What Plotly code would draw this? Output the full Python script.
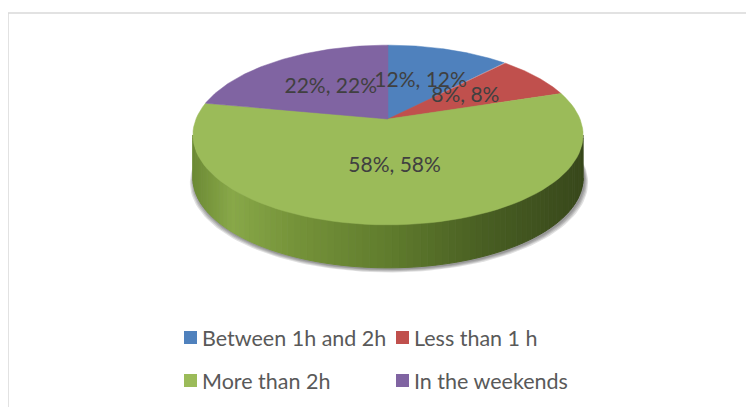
import numpy as np
import plotly.graph_objects as go

categories = ["Between 1h and 2h", "Less than 1 h", "More than 2h", "In the weekends"]
shares = [12, 8, 58, 22]
colors = ["#4f81bd", "#c0504d", "#9bbb59", "#8064a2"]

W, H = 754, 407
OFF = 8                    # page body margin, so axis units = page pixels
FONT = "Lato"

# fake 3d pie: a tilted disc seen in perspective, drawn in page pixels
CX, CY = 388, 119          # pie centre on the page
A, B, C = 192, 87, 0.178   # radius, vertical squash, perspective strength
DEPTH = 43                 # thickness of the disc


def project(theta, r=1.0, dy=0.0):
    """Angle clockwise from 12 o'clock -> page x, y."""
    u = r * np.sin(theta)
    v = r * np.cos(theta)
    d = 1 + C * v
    return CX + A * u / d, CY - B * v / d + dy


def side_color(frac):
    stops = [0.0, 0.1, 0.25, 0.5, 0.75, 1.0]
    rgb = [
        np.interp(frac, stops, [108, 136, 118, 96, 72, 56]),
        np.interp(frac, stops, [138, 168, 148, 124, 94, 72]),
        np.interp(frac, stops, [52, 72, 58, 45, 34, 27]),
    ]
    return "rgb(%d,%d,%d)" % tuple(int(round(c)) for c in rgb)


fig = go.Figure()

# soft shadow under the disc
full = np.linspace(0, 2 * np.pi, 200)
for k in range(4, 0, -1):
    sx, sy = project(full, dy=DEPTH)
    sx = CX + (sx - CX) * (1 + k / 195) + 1
    sy = sy + k * 0.9 + 1
    fig.add_trace(go.Scatter(x=sx, y=sy, fill="toself", mode="lines",
                             line=dict(width=0), fillcolor="rgba(0,0,0,0.12)",
                             hoverinfo="skip", showlegend=False))

# side wall (only the front half shows)
bounds = np.cumsum([0] + shares) / sum(shares) * 2 * np.pi
t_left = 2 * np.pi - np.arccos(-C)
t_right = np.arccos(-C)
ts = np.linspace(t_right, t_left, 90)
x_min, x_max = CX - A / np.sqrt(1 - C ** 2), CX + A / np.sqrt(1 - C ** 2)
for t0, t1 in zip(ts[:-1], ts[1:]):
    seg = np.linspace(t0, t1, 3)
    tx, ty = project(seg)
    bx, by = project(seg[::-1], dy=DEPTH)
    col = side_color((tx.mean() - x_min) / (x_max - x_min))
    fig.add_trace(go.Scatter(x=np.r_[tx, bx], y=np.r_[ty, by], fill="toself",
                             mode="lines", line=dict(width=1, color=col),
                             fillcolor=col, hoverinfo="skip", showlegend=False))

# top face slices
for i, (name, val) in enumerate(zip(categories, shares)):
    t = np.linspace(bounds[i], bounds[i + 1], 80)
    px_, py_ = project(t)
    fig.add_trace(go.Scatter(x=np.r_[CX, px_, CX], y=np.r_[CY, py_, CY],
                             fill="toself", mode="lines",
                             line=dict(width=0.5, color=colors[i]),
                             fillcolor=colors[i], name=name,
                             hoverinfo="skip", showlegend=False))

# data labels at half radius
mids = (bounds[:-1] + bounds[1:]) / 2
lx, ly = project(mids, r=0.5)
fig.add_trace(go.Scatter(x=lx, y=ly, mode="text",
                         text=[f"{v}%, {v}%" for v in shares],
                         textfont=dict(family=FONT, size=21, color="#404040"),
                         hoverinfo="skip", showlegend=False))

# legend, two columns
shapes = [dict(type="rect", xref="x", yref="y", x0=8, y0=13, x1=800, y1=450,
               line=dict(color="#d9d9d9", width=1.5), fillcolor="rgba(0,0,0,0)",
               layer="below")]
annotations = []
for i, name in enumerate(categories):
    x0 = 184 + (i % 2) * 212
    y0 = 331 + (i // 2) * 43
    shapes.append(dict(type="rect", xref="x", yref="y", x0=x0, y0=y0,
                       x1=x0 + 13, y1=y0 + 13, line=dict(width=0),
                       fillcolor=colors[i]))
    annotations.append(dict(x=x0 + 16, y=y0 + 7, xref="x", yref="y",
                            text=name, showarrow=False, xanchor="left",
                            yanchor="middle",
                            font=dict(family=FONT, size=21.5, color="#595959")))

fig.update_layout(
    width=W, height=H,
    margin=dict(l=0, r=0, t=0, b=0),
    paper_bgcolor="white", plot_bgcolor="white",
    xaxis=dict(range=[OFF, W + OFF], visible=False, fixedrange=True),
    yaxis=dict(range=[H + OFF, OFF], visible=False, fixedrange=True),
    shapes=shapes, annotations=annotations,
    showlegend=False, hovermode=False,
)

fig.write_html("out.html")
